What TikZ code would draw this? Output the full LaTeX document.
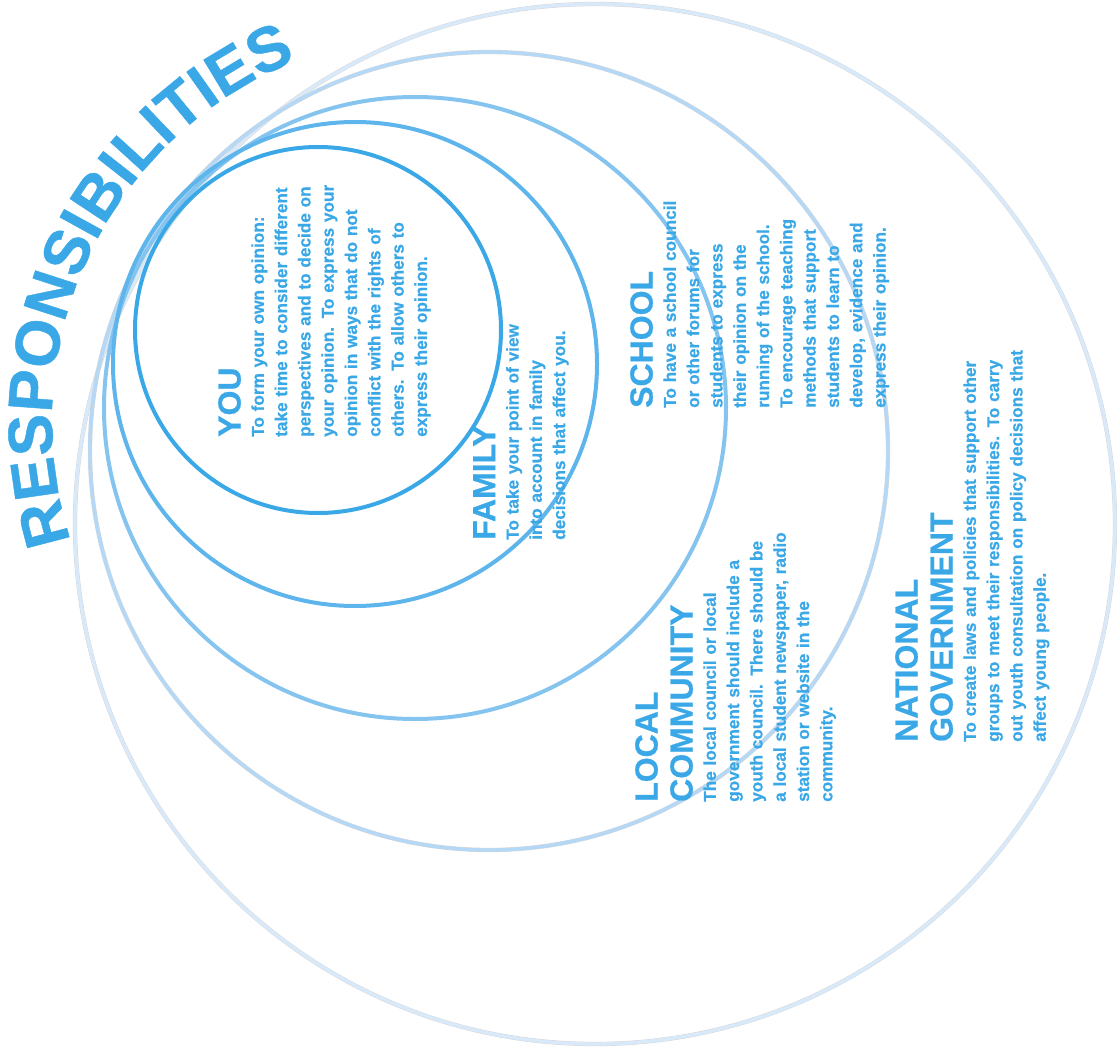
\documentclass[tikz,border=0pt]{standalone}
\usepackage{fontspec}
\setmainfont{Liberation Sans}[BoldFeatures={FakeBold=0.7}]
\usetikzlibrary{decorations.text}
\definecolor{inkblue}{RGB}{58,168,230}
\definecolor{youring}{RGB}{58,168,230}
\definecolor{famring}{RGB}{94,181,236}
\definecolor{schring}{RGB}{134,196,240}
\definecolor{locring}{RGB}{180,216,245}
\definecolor{natring}{RGB}{216,234,250}
\tikzset{
  ring/.style={draw=#1, line width=4pt},
  softring/.style={draw=black!16, double=#1, double distance=3.4pt, line width=0.45pt},
  blurb/.style={rotate=90, anchor=north west, inner sep=0pt, text width=#1, align=left,
                text=inkblue, font=\bfseries\fontsize{17.2}{23.3}\selectfont},
  blurb/.default=420pt
}
\newcommand\hdr[1]{{\fontsize{32}{35}\selectfont #1\par}}

\begin{document}
\begin{tikzpicture}[x=1pt, y=-1pt]
\useasboundingbox (0,0) rectangle (1117,1054);
\draw[softring=natring] (595,524) circle[radius=520];
\draw[softring=locring] (489,451) circle[radius=399];
\draw[ring=schring] (415,408) circle[radius=311];
\draw[ring=famring] (355,364) circle[radius=242];
\draw[ring=youring] (318,330) circle[radius=183];
\path[decorate, decoration={text along path, text color=inkblue,
  text={|\bfseries\fontsize{63}{63}\selectfont|RESPONSIBILITIES}}]
  (440,421) ++(162:388) arc[start angle=162, end angle=255, radius=388];
\node[blurb] (you) at (218,437) {\hdr{YOU}To form your own opinion:\\
  take time to consider different\\ perspectives and to decide on\\
  your opinion. To express your\\ opinion in ways that do not\\
  conflict with the rights of\\ others. To allow others to\\ express their opinion.};
\node[blurb] (family) at (473,540) {\hdr{FAMILY}To take your point of view\\
  into account in family\\ decisions that affect you.};
\node[blurb] (school) at (630,408) {\hdr{SCHOOL}To have a school council\\
  or other forums for\\ students to express\\ their opinion on the\\
  running of the school.\\ To encourage teaching\\ methods that support\\
  students to learn to\\ develop, evidence and\\ express their opinion.};
\node[blurb] (local) at (635,802) {\hdr{LOCAL\\COMMUNITY}The local council or local\\
  government should include a\\ youth council. There should be\\
  a local student newspaper, radio\\ station or website in the\\ community.};
\node[blurb] (national) at (895,742) {\hdr{NATIONAL\\GOVERNMENT}To create laws and policies that support other\\
  groups to meet their responsibilities. To carry\\
  out youth consultation on policy decisions that\\ affect young people.};
\end{tikzpicture}
\end{document}
